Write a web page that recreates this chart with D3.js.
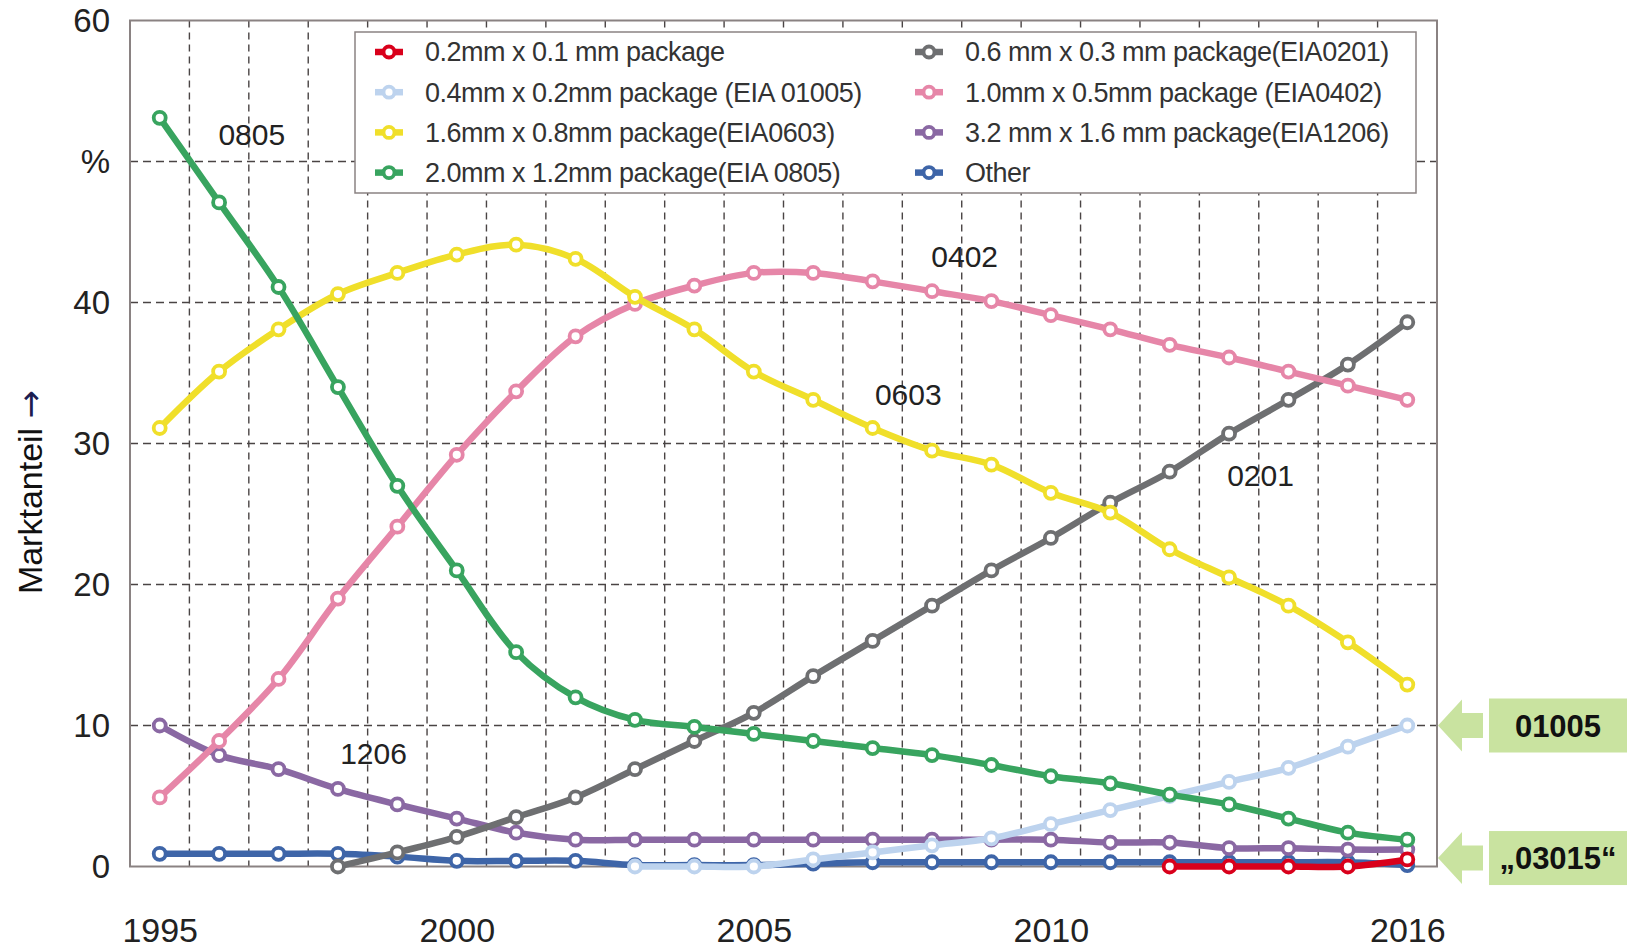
<!DOCTYPE html>
<html>
<head>
<meta charset="utf-8">
<script src="https://cdn.jsdelivr.net/npm/d3@7"></script>
<style>
  body { margin: 0; background: #fff; }
  text { font-family: "Liberation Sans", Arial, sans-serif; }
</style>
</head>
<body>
<div id="chart"></div>
<script>
// market share (%) per package size, 1995 - 2016
const years = [1995, 1996, 1997, 1998, 1999, 2000, 2001, 2002, 2003, 2004, 2005,
               2006, 2007, 2008, 2009, 2010, 2011, 2012, 2013, 2014, 2015, 2016];

const s03015 = [null, null, null, null, null, null, null, null, null, null, null,
                null, null, null, null, null, null, 0, 0, 0, 0, 0.5];
const s01005 = [null, null, null, null, null, null, null, null, 0, 0, 0,
                0.5, 1.0, 1.5, 2.0, 3.0, 4.0, 5.0, 6.0, 7.0, 8.5, 10.0];
const s0603 = [31.1, 35.1, 38.1, 40.6, 42.1, 43.4, 44.1, 43.1, 40.4, 38.1, 35.1,
               33.1, 31.1, 29.5, 28.5, 26.5, 25.1, 22.5, 20.5, 18.5, 15.9, 12.9];
const s0805 = [53.1, 47.1, 41.1, 34.0, 27.0, 21.0, 15.2, 12.0, 10.4, 9.9, 9.4,
               8.9, 8.4, 7.9, 7.2, 6.4, 5.9, 5.1, 4.4, 3.4, 2.4, 1.9];
const s0201 = [null, null, null, 0, 1.0, 2.1, 3.5, 4.9, 6.9, 8.9, 10.9,
               13.5, 16.0, 18.5, 21.0, 23.3, 25.8, 28.0, 30.7, 33.1, 35.6, 38.6];
const s0402 = [4.9, 8.9, 13.3, 19.0, 24.1, 29.2, 33.7, 37.6, 39.9, 41.2, 42.1,
               42.1, 41.5, 40.8, 40.1, 39.1, 38.1, 37.0, 36.1, 35.1, 34.1, 33.1];
const s1206 = [10.0, 7.9, 6.9, 5.5, 4.4, 3.4, 2.4, 1.9, 1.9, 1.9, 1.9,
               1.9, 1.9, 1.9, 1.9, 1.9, 1.7, 1.7, 1.3, 1.3, 1.2, 1.2];
const sOther = [0.9, 0.9, 0.9, 0.9, 0.7, 0.4, 0.4, 0.4, 0.1, 0.1, 0.1,
                0.2, 0.3, 0.3, 0.3, 0.3, 0.3, 0.3, 0.3, 0.3, 0.3, 0.1];

const legendNames = [
  "0.2mm x 0.1 mm package",
  "0.4mm x 0.2mm package (EIA 01005)",
  "1.6mm x 0.8mm package(EIA0603)",
  "2.0mm x 1.2mm package(EIA 0805)",
  "0.6 mm x 0.3 mm package(EIA0201)",
  "1.0mm x 0.5mm package (EIA0402)",
  "3.2 mm x 1.6 mm package(EIA1206)",
  "Other"
];
const yTicks = [0, 10, 20, 30, 40, 50, 60];
const yTickText = ["0", "10", "20", "30", "40", "%", "60"];
const xTicks = [1995, 2000, 2005, 2010, 2016];

// labels written inside the plot: [text, year, value]
const lineLabels = [["0805", 1996.55, 51.2], ["0402", 2008.55, 42.5], ["0603", 2007.6, 32.7],
                    ["0201", 2013.53, 27.0], ["1206", 1998.6, 7.3]];
// callout boxes on the right: [text, value]
const callouts = [["01005", 10], ["\u201E03015\u201C", 0.6]];

var colors = ["#d9001b", "#bdd3ee", "#f0df2a", "#38a45f", "#6e6f71", "#e686a8", "#8a68a3", "#3e65a8"];
var seriesValues = [s03015, s01005, s0603, s0805, s0201, s0402, s1206, sOther];

var series = legendNames.map(function(name, i) {
  return {
    name: name,
    color: colors[i],
    values: years.map(function(yr, j) { return {year: yr, v: seriesValues[i][j]}; })
  };
});

var width = 1633, height = 949;

var svg = d3.select("#chart").append("svg")
  .attr("width", width)
  .attr("height", height);

var x = d3.scaleLinear().domain([1994.5, 2016.5]).range([130, 1437]);
var y = d3.scaleLinear().domain([0, 60]).range([866.5, 20.5]);

// dashed grid
svg.append("g")
  .selectAll("line")
  .data(d3.range(1995.5, 2016, 1))
  .enter().append("line")
  .attr("x1", function(d) { return x(d); })
  .attr("x2", function(d) { return x(d); })
  .attr("y1", y(60))
  .attr("y2", y(0))
  .style("stroke", "#4a4444")
  .style("stroke-width", 1.4)
  .style("stroke-dasharray", "7,5");

svg.append("g")
  .selectAll("line")
  .data([10, 20, 30, 40, 50])
  .enter().append("line")
  .attr("x1", x(1994.5))
  .attr("x2", x(2016.5))
  .attr("y1", function(d) { return y(d); })
  .attr("y2", function(d) { return y(d); })
  .style("stroke", "#4a4444")
  .style("stroke-width", 1.4)
  .style("stroke-dasharray", "8,5");

// frame
svg.append("rect")
  .attr("x", x(1994.5))
  .attr("y", y(60))
  .attr("width", x(2016.5) - x(1994.5))
  .attr("height", y(0) - y(60))
  .style("fill", "none")
  .style("stroke", "#8a8282")
  .style("stroke-width", 2);

// y axis
var yAxis = d3.axisLeft(y)
  .tickValues(yTicks)
  .tickSize(0)
  .tickPadding(20)
  .tickFormat(function(d, i) { return yTickText[i]; });

var gy = svg.append("g")
  .attr("transform", "translate(" + x(1994.5) + ",0)")
  .call(yAxis);
gy.select(".domain").remove();
gy.selectAll("text")
  .style("font-size", "33px")
  .style("font-family", "'Liberation Sans', Arial, sans-serif")
  .style("fill", "#222");

// x axis
var xAxis = d3.axisBottom(x)
  .tickValues(xTicks)
  .tickSize(0)
  .tickFormat(d3.format("d"));

var gx = svg.append("g")
  .attr("transform", "translate(0," + y(0) + ")")
  .call(xAxis);
gx.select(".domain").remove();
gx.selectAll("text")
  .attr("dy", null)
  .attr("y", 75)
  .style("font-size", "34px")
  .style("font-family", "'Liberation Sans', Arial, sans-serif")
  .style("fill", "#222");

// y axis title
var title = svg.append("text")
  .attr("transform", "translate(42,492) rotate(-90)")
  .style("text-anchor", "middle")
  .style("font-size", "34px")
  .style("fill", "#111");
title.append("tspan").text("Marktanteil ");
title.append("tspan")
  .style("font-family", "'DejaVu Sans', sans-serif")
  .style("fill", "#1c1c50")
  .text("\u2192");

// lines, drawn bottom to top
var line = d3.line()
  .defined(function(d) { return d.v != null; })
  .x(function(d) { return x(d.year); })
  .y(function(d) { return y(d.v); })
  .curve(d3.curveCatmullRom.alpha(0.5));

var drawOrder = [7, 6, 1, 4, 5, 2, 3, 0];

drawOrder.forEach(function(i) {
  var s = series[i];
  var pts = s.values.filter(function(d) { return d.v != null; });
  var g = svg.append("g");
  g.append("path")
    .datum(pts)
    .attr("d", line)
    .style("fill", "none")
    .style("stroke", s.color)
    .style("stroke-width", 6.5)
    .style("stroke-linejoin", "round");
  g.selectAll("circle")
    .data(pts)
    .enter().append("circle")
    .attr("cx", function(d) { return x(d.year); })
    .attr("cy", function(d) { return y(d.v); })
    .attr("r", 6)
    .style("fill", "#fff")
    .style("stroke", s.color)
    .style("stroke-width", 3.8);
});

// line labels
svg.append("g")
  .selectAll("text")
  .data(lineLabels)
  .enter().append("text")
  .attr("x", function(d) { return x(d[1]); })
  .attr("y", function(d) { return y(d[2]); })
  .style("text-anchor", "middle")
  .style("font-size", "30px")
  .style("fill", "#222")
  .text(function(d) { return d[0]; });

// legend
var legend = svg.append("g");
legend.append("rect")
  .attr("x", 355)
  .attr("y", 32)
  .attr("width", 1061)
  .attr("height", 161)
  .style("fill", "#fff")
  .style("stroke", "#8a8282")
  .style("stroke-width", 1.5);

var item = legend.selectAll(".item")
  .data(series)
  .enter().append("g")
  .attr("class", "item")
  .attr("transform", function(d, i) {
    var col = Math.floor(i / 4), row = i % 4;
    return "translate(" + (col ? 929 : 389) + "," + (52 + row * 40.2) + ")";
  });

item.append("line")
  .attr("x1", -14).attr("x2", 14)
  .style("stroke", function(d) { return d.color; })
  .style("stroke-width", 6.5);
item.append("circle")
  .attr("r", 5.5)
  .style("fill", "#fff")
  .style("stroke", function(d) { return d.color; })
  .style("stroke-width", 3.8);
item.append("text")
  .attr("x", 36)
  .attr("dy", "0.35em")
  .style("font-size", "27px")
  .style("letter-spacing", "-0.5px")
  .style("fill", "#333")
  .text(function(d) { return d.name; });

// callouts on the right
var call = svg.append("g")
  .selectAll("g")
  .data(callouts)
  .enter().append("g")
  .attr("transform", function(d) { return "translate(1438," + y(d[1]) + ")"; });

call.append("path")
  .attr("d", "M0,0 L24,-26 L24,-12.5 L45,-12.5 L45,12.5 L24,12.5 L24,26 Z")
  .style("fill", "#c9e3a0");
call.append("rect")
  .attr("x", 51)
  .attr("y", -27)
  .attr("width", 138)
  .attr("height", 54)
  .style("fill", "#c9e3a0");
call.append("text")
  .attr("x", 120)
  .attr("dy", "0.36em")
  .style("text-anchor", "middle")
  .style("font-size", "31px")
  .style("font-weight", "bold")
  .style("fill", "#111")
  .text(function(d) { return d[0]; });
</script>
</body>
</html>
